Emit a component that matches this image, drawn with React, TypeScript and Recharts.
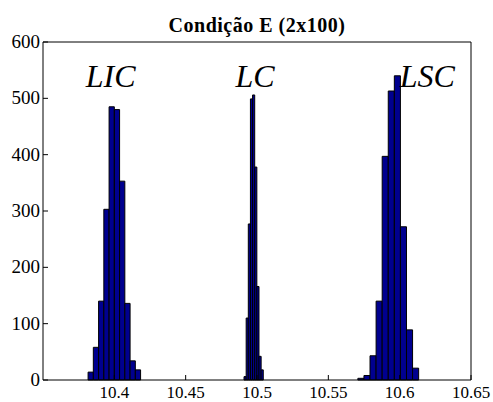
import React from 'react';
import {
  ComposedChart,
  XAxis,
  YAxis,
  Scatter,
  ReferenceArea,
  ReferenceDot
} from 'recharts';

// histogram bins: start edge, bin width, counts per cluster
const licStart = 10.3816;
const licWidth = 0.00368;
const licCounts = [14, 58, 140, 303, 485, 480, 353, 136, 34, 18];

const lcStart = 10.4909;
const lcWidth = 0.0015;
const lcCounts = [6, 110, 277, 499, 506, 378, 166, 42, 18];

const lscStart = 10.5707;
const lscWidth = 0.00426;
const lscCounts = [3, 8, 43, 140, 397, 513, 540, 272, 89, 21];

const xTicks = [10.4, 10.45, 10.5, 10.55, 10.6, 10.65];
const yTicks = [0, 100, 200, 300, 400, 500, 600];

const limitLabels = [
  { name: 'LIC', x: 10.3974, y: 541 },
  { name: 'LC', x: 10.4986, y: 541 },
  { name: 'LSC', x: 10.6193, y: 541 }
];

const title = 'Condição E (2x100)';

const buildBins = (start: number, width: number, counts: number[]) =>
  counts.map((count, i) => ({
    x1: start + i * width,
    x2: start + (i + 1) * width,
    center: start + (i + 0.5) * width,
    count
  }));

const bins = [
  ...buildBins(licStart, licWidth, licCounts),
  ...buildBins(lcStart, lcWidth, lcCounts),
  ...buildBins(lscStart, lscWidth, lscCounts)
];

const font = '"Liberation Serif", "Times New Roman", serif';

// inline style so nothing else overrides the tick font
const XTick = (props: any) => (
  <text
    x={props.x}
    y={props.y}
    dy={12}
    textAnchor="middle"
    style={{ fontFamily: font, fontSize: 17, fill: '#000' }}
  >
    {props.payload.value}
  </text>
);

const YTick = (props: any) => (
  <text
    x={props.x}
    y={props.y}
    dy={6}
    textAnchor="end"
    style={{ fontFamily: font, fontSize: 19, fill: '#000' }}
  >
    {props.payload.value}
  </text>
);

const App: React.FC = () => {
  return (
    <div
      style={{
        position: 'absolute',
        left: 0,
        top: 0,
        width: 493,
        height: 402,
        background: '#fff',
        fontFamily: font
      }}
    >
      <ComposedChart
        width={493}
        height={402}
        data={bins}
        margin={{ top: 41, right: 21, left: 42, bottom: 21 }}
      >
        <XAxis
          dataKey="center"
          type="number"
          domain={[10.35, 10.65]}
          ticks={xTicks}
          allowDataOverflow
          height={1}
          tickSize={-5}
          tickMargin={11}
          tick={<XTick />}
          axisLine={{ stroke: '#000' }}
          tickLine={{ stroke: '#000' }}
        />
        <XAxis
          xAxisId="top"
          dataKey="center"
          orientation="top"
          type="number"
          domain={[10.35, 10.65]}
          ticks={xTicks}
          allowDataOverflow
          height={1}
          tickSize={-5}
          tick={false}
          axisLine={{ stroke: '#000' }}
          tickLine={{ stroke: '#000' }}
          label={{
            value: title,
            position: 'top',
            offset: 9,
            style: { fontFamily: font, fontSize: 20, fontWeight: 'bold', letterSpacing: 0.5, fill: '#000' }
          }}
        />
        <YAxis
          type="number"
          domain={[0, 600]}
          ticks={yTicks}
          width={1}
          tickSize={-5}
          tickMargin={8}
          tick={<YTick />}
          axisLine={{ stroke: '#000' }}
          tickLine={{ stroke: '#000' }}
        />
        <YAxis
          yAxisId="right"
          orientation="right"
          type="number"
          domain={[0, 600]}
          ticks={yTicks}
          width={1}
          tickSize={-5}
          tick={false}
          axisLine={{ stroke: '#000' }}
          tickLine={{ stroke: '#000' }}
        />
        {bins.map((bin, i) => (
          <ReferenceArea
            key={i}
            x1={bin.x1}
            x2={bin.x2}
            y1={0}
            y2={bin.count}
            fill="#00008f"
            fillOpacity={1}
            stroke="#000"
            strokeWidth={1}
          />
        ))}
        <Scatter dataKey="count" fill="none" shape={() => <g />} isAnimationActive={false} />
        {limitLabels.map((l) => (
          <ReferenceDot
            key={l.name}
            x={l.x}
            y={l.y}
            r={0}
            fill="none"
            stroke="none"
            label={{
              value: l.name,
              position: 'center',
              style: { fontFamily: font, fontSize: 32, fontStyle: 'italic', fill: '#000' }
            }}
          />
        ))}
      </ComposedChart>
    </div>
  );
};

export default App;
